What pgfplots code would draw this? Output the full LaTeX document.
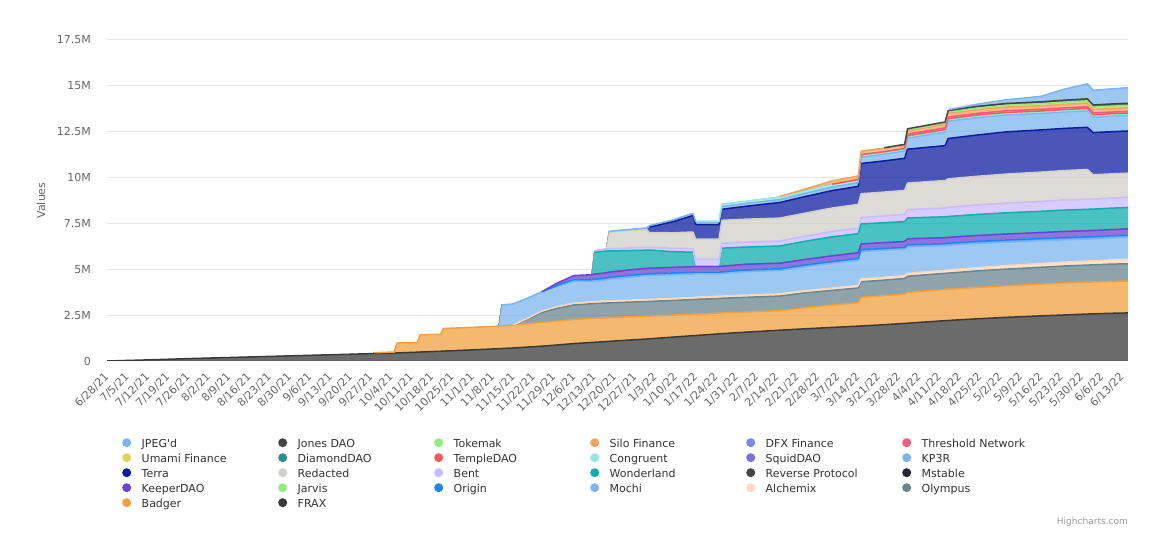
\documentclass[border=0pt]{standalone}
\usepackage{fontspec}
\setmainfont{DejaVu Sans}
\usepackage{pgfplots}
\usepackage{pgfplotstable}
\pgfplotsset{compat=1.18}

\definecolor{cFRAX}{HTML}{3A3A3A}
\definecolor{cBadger}{HTML}{F2A03F}
\definecolor{cOlympus}{HTML}{6A858E}
\definecolor{cAlchemix}{HTML}{FBD9C0}
\definecolor{cMochi}{HTML}{7CB5EC}
\definecolor{cOrigin}{HTML}{1E84F5}
\definecolor{cJarvis}{HTML}{90ED7D}
\definecolor{cKeeper}{HTML}{6A45D5}
\definecolor{cMstable}{HTML}{262637}
\definecolor{cReverse}{HTML}{434348}
\definecolor{cWonder}{HTML}{0DADB0}
\definecolor{cBent}{HTML}{C9BBFE}
\definecolor{cRedacted}{HTML}{D3CFC9}
\definecolor{cTerra}{HTML}{0D1DA0}
\definecolor{cKP3R}{HTML}{7CB5EC}
\definecolor{cSquid}{HTML}{7B72D9}
\definecolor{cCongruent}{HTML}{91E8E1}
\definecolor{cTemple}{HTML}{F45B5B}
\definecolor{cDiamond}{HTML}{2B908F}
\definecolor{cUmami}{HTML}{E4D354}
\definecolor{cThreshold}{HTML}{F15C80}
\definecolor{cDFX}{HTML}{8085E9}
\definecolor{cSilo}{HTML}{F7A35C}
\definecolor{cTokemak}{HTML}{90ED7D}
\definecolor{cJones}{HTML}{434348}
\definecolor{cJPEG}{HTML}{7CB5EC}
\definecolor{cGrid}{HTML}{E6E6E6}
\definecolor{cAxis}{HTML}{CCD6EB}
\definecolor{cTick}{HTML}{666666}
\definecolor{cLegend}{HTML}{333333}
\definecolor{cCredit}{HTML}{999999}

\newcommand{\tickfont}{\fontsize{11bp}{13bp}\selectfont}
\newcommand{\lgd}[1]{\makebox[136.5bp][l]{#1}}

% values in millions, d = days since 6/28/21
\pgfplotstableread{
d   fr   bd   ol   al   mo   or   ja   kd   ms   rp   wo   be   re   te   kp   sq   co   tp   dd   um   th   dfx  si   to   jo   jp
0   0    0    0    0    0    0    0    0    0    0    0    0    0    0    0    0    0    0    0    0    0    0    0    0    0    0
14  0.06 0    0    0    0    0    0    0    0    0    0    0    0    0    0    0    0    0    0    0    0    0    0    0    0    0
28  0.13 0    0    0    0    0    0    0    0    0    0    0    0    0    0    0    0    0    0    0    0    0    0    0    0    0
42  0.19 0    0    0    0    0    0    0    0    0    0    0    0    0    0    0    0    0    0    0    0    0    0    0    0    0
56  0.25 0    0    0    0    0    0    0    0    0    0    0    0    0    0    0    0    0    0    0    0    0    0    0    0    0
70  0.31 0    0    0    0    0    0    0    0    0    0    0    0    0    0    0    0    0    0    0    0    0    0    0    0    0
84  0.37 0    0    0    0    0    0    0    0    0    0    0    0    0    0    0    0    0    0    0    0    0    0    0    0    0
91  0.40 0    0    0    0    0    0    0    0    0    0    0    0    0    0    0    0    0    0    0    0    0    0    0    0    0
92  0.40 0.05 0    0    0    0    0    0    0    0    0    0    0    0    0    0    0    0    0    0    0    0    0    0    0    0
99  0.43 0.06 0    0    0    0    0    0    0    0    0    0    0    0    0    0    0    0    0    0    0    0    0    0    0    0
100 0.44 0.54 0    0    0    0    0    0    0    0    0    0    0    0    0    0    0    0    0    0    0    0    0    0    0    0
107 0.48 0.52 0    0    0    0    0    0    0    0    0    0    0    0    0    0    0    0    0    0    0    0    0    0    0    0
108 0.49 0.94 0    0    0    0    0    0    0    0    0    0    0    0    0    0    0    0    0    0    0    0    0    0    0    0
115 0.53 0.93 0    0    0    0    0    0    0    0    0    0    0    0    0    0    0    0    0    0    0    0    0    0    0    0
116 0.54 1.23 0    0    0    0    0    0    0    0    0    0    0    0    0    0    0    0    0    0    0    0    0    0    0    0
125 0.60 1.23 0    0    0    0    0    0    0    0    0    0    0    0    0    0    0    0    0    0    0    0    0    0    0    0
135 0.67 1.23 0    0    0    0    0    0    0    0    0    0    0    0    0    0    0    0    0    0    0    0    0    0    0    0
136 0.68 1.23 0    0    1.15 0    0    0    0    0    0    0    0    0    0    0    0    0    0    0    0    0    0    0    0    0
140 0.71 1.25 0    0    1.15 0    0    0    0    0    0    0    0    0    0    0    0    0    0    0    0    0    0    0    0    0
145 0.76 1.27 0.25 0.05 1.10 0    0    0    0    0    0    0    0    0    0    0    0    0    0    0    0    0    0    0    0    0
150 0.81 1.29 0.55 0.08 1.05 0    0    0    0    0    0    0    0    0    0    0    0    0    0    0    0    0    0    0    0    0
155 0.87 1.30 0.70 0.09 1.10 0.05 0    0.12 0    0    0    0    0    0    0    0    0    0    0    0    0    0    0    0    0    0
161 0.95 1.31 0.80 0.10 1.20 0.08 0.02 0.20 0    0    0    0    0    0    0    0    0    0    0    0    0    0    0    0    0    0
167 1.01 1.31 0.80 0.10 1.12 0.10 0.02 0.24 0    0    0    0    0    0    0    0    0    0    0    0    0    0    0    0    0    0
168 1.02 1.31 0.80 0.11 1.12 0.10 0.02 0.25 0.02 0.02 1.15 0.10 0    0    0    0    0    0    0    0    0    0    0    0    0    0
172 1.06 1.30 0.80 0.11 1.15 0.10 0.02 0.26 0.02 0.02 1.15 0.12 0    0    0    0    0    0    0    0    0    0    0    0    0    0
173 1.07 1.30 0.80 0.11 1.18 0.10 0.02 0.26 0.02 0.02 1.12 0.12 0.90 0    0.05 0    0    0    0    0    0    0    0    0    0    0
180 1.14 1.27 0.80 0.11 1.25 0.10 0.02 0.27 0.02 0.02 1.02 0.14 0.95 0    0.06 0    0    0    0    0    0    0    0    0    0    0
186 1.20 1.24 0.80 0.11 1.30 0.10 0.02 0.28 0.02 0.02 0.95 0.15 0.98 0    0.08 0    0    0    0    0    0    0    0    0    0    0
187 1.21 1.24 0.80 0.11 1.30 0.10 0.02 0.28 0.02 0.02 0.95 0.15 0.80 0.30 0.08 0    0    0    0    0    0    0    0    0    0    0
195 1.30 1.20 0.80 0.11 1.29 0.10 0.02 0.28 0.02 0.02 0.82 0.18 0.85 0.60 0.10 0    0    0    0    0    0    0    0    0    0    0
202 1.38 1.17 0.80 0.11 1.28 0.10 0.02 0.28 0.02 0.02 0.75 0.20 0.90 0.90 0.12 0    0    0    0    0    0    0    0    0    0    0
203 1.39 1.17 0.80 0.12 1.27 0.10 0.02 0.28 0.02 0.02 0    0.35 1.10 0.80 0.15 0    0.03 0    0    0    0    0    0    0    0    0
211 1.48 1.13 0.80 0.12 1.22 0.10 0.02 0.28 0.02 0.02 0    0.35 1.10 0.80 0.15 0    0.03 0    0    0    0    0    0    0    0    0
212 1.49 1.13 0.80 0.12 1.22 0.10 0.02 0.28 0.02 0.02 0.95 0.27 1.25 0.60 0.15 0.03 0.10 0    0    0    0    0    0    0    0    0
220 1.57 1.10 0.80 0.12 1.28 0.10 0.02 0.28 0.02 0.02 0.90 0.27 1.25 0.70 0.15 0.03 0.10 0    0    0    0    0    0    0    0    0
232 1.68 1.06 0.80 0.12 1.27 0.10 0.02 0.28 0.02 0.02 0.90 0.27 1.25 0.85 0.15 0.03 0.10 0    0    0    0    0    0.05 0    0    0
240 1.75 1.15 0.80 0.12 1.30 0.10 0.02 0.28 0.02 0.02 0.95 0.28 1.25 0.90 0.17 0.03 0.10 0    0    0    0    0    0.10 0    0    0
250 1.83 1.22 0.80 0.13 1.35 0.10 0.02 0.28 0.02 0.02 1.00 0.29 1.28 0.95 0.19 0.03 0.10 0.03 0    0    0    0    0.18 0    0    0
259 1.90 1.28 0.80 0.13 1.38 0.10 0.02 0.29 0.02 0.02 1.00 0.30 1.30 0.98 0.20 0.03 0.10 0.04 0    0    0    0    0.20 0    0    0
260 1.91 1.56 0.85 0.15 1.50 0.10 0.02 0.29 0.02 0.02 1.05 0.35 1.30 1.65 0.35 0.03 0.05 0.05 0.02 0    0    0.02 0.15 0    0    0
268 1.98 1.58 0.85 0.15 1.48 0.10 0.02 0.29 0.02 0.02 1.05 0.37 1.30 1.70 0.37 0.03 0.05 0.05 0.02 0    0    0.02 0.15 0    0.03 0
275 2.05 1.60 0.85 0.15 1.45 0.10 0.02 0.29 0.02 0.02 1.05 0.40 1.30 1.75 0.40 0.03 0.05 0.05 0.02 0    0    0.02 0.15 0    0.04 0
276 2.06 1.68 0.88 0.16 1.45 0.11 0.02 0.30 0.02 0.02 1.10 0.45 1.45 1.85 0.60 0.03 0.05 0.05 0.02 0.02 0.05 0.02 0.17 0.05 0.05 0
289 2.20 1.70 0.88 0.16 1.35 0.11 0.02 0.30 0.02 0.02 1.10 0.48 1.50 1.90 0.75 0.03 0.05 0.05 0.02 0.02 0.05 0.02 0.17 0.08 0.05 0
290 2.21 1.70 0.88 0.17 1.35 0.11 0.02 0.30 0.02 0.02 1.10 0.50 1.55 2.20 0.95 0.03 0.05 0.05 0.02 0.02 0.05 0.02 0.18 0.10 0.05 0.05
300 2.30 1.71 0.90 0.18 1.32 0.11 0.02 0.30 0.02 0.02 1.11 0.52 1.56 2.25 0.95 0.03 0.05 0.06 0.02 0.02 0.05 0.02 0.18 0.10 0.08 0.12
310 2.38 1.72 0.91 0.19 1.28 0.12 0.02 0.30 0.02 0.02 1.12 0.53 1.58 2.30 0.93 0.03 0.04 0.06 0.02 0.02 0.05 0.02 0.18 0.11 0.09 0.20
322 2.46 1.73 0.92 0.20 1.25 0.12 0.02 0.30 0.02 0.02 1.12 0.54 1.60 2.30 0.90 0.03 0.04 0.06 0.02 0.02 0.05 0.02 0.17 0.12 0.10 0.30
330 2.51 1.74 0.93 0.21 1.22 0.12 0.02 0.31 0.02 0.02 1.13 0.55 1.60 2.30 0.90 0.03 0.04 0.06 0.02 0.02 0.05 0.02 0.17 0.12 0.11 0.60
338 2.56 1.74 0.93 0.22 1.20 0.12 0.02 0.31 0.02 0.02 1.13 0.55 1.62 2.30 0.90 0.03 0.04 0.06 0.02 0.02 0.05 0.02 0.17 0.13 0.11 0.82
340 2.57 1.74 0.93 0.22 1.20 0.12 0.02 0.31 0.02 0.02 1.13 0.55 1.32 2.30 0.85 0.03 0.04 0.06 0.02 0.02 0.05 0.02 0.17 0.13 0.12 0.80
346 2.60 1.74 0.94 0.23 1.20 0.12 0.02 0.31 0.02 0.02 1.13 0.55 1.32 2.30 0.85 0.03 0.04 0.06 0.02 0.02 0.05 0.02 0.17 0.13 0.12 0.82
352 2.62 1.74 0.94 0.25 1.20 0.12 0.02 0.31 0.02 0.02 1.13 0.55 1.32 2.30 0.85 0.03 0.04 0.06 0.02 0.02 0.05 0.02 0.17 0.13 0.12 0.85
}\data

% running totals (tops of the stacked bands), used for the series' top lines
\pgfplotstablecreatecol[create col/expr={\thisrow{fr}}]{s1}{\data}
\pgfplotstablecreatecol[create col/expr={\thisrow{s1}+\thisrow{bd}}]{s2}{\data}
\pgfplotstablecreatecol[create col/expr={\thisrow{s2}+\thisrow{ol}}]{s3}{\data}
\pgfplotstablecreatecol[create col/expr={\thisrow{s3}+\thisrow{al}}]{s4}{\data}
\pgfplotstablecreatecol[create col/expr={\thisrow{s4}+\thisrow{mo}}]{s5}{\data}
\pgfplotstablecreatecol[create col/expr={\thisrow{s5}+\thisrow{or}}]{s6}{\data}
\pgfplotstablecreatecol[create col/expr={\thisrow{s6}+\thisrow{ja}}]{s7}{\data}
\pgfplotstablecreatecol[create col/expr={\thisrow{s7}+\thisrow{kd}}]{s8}{\data}
\pgfplotstablecreatecol[create col/expr={\thisrow{s8}+\thisrow{ms}}]{s9}{\data}
\pgfplotstablecreatecol[create col/expr={\thisrow{s9}+\thisrow{rp}}]{s10}{\data}
\pgfplotstablecreatecol[create col/expr={\thisrow{s10}+\thisrow{wo}}]{s11}{\data}
\pgfplotstablecreatecol[create col/expr={\thisrow{s11}+\thisrow{be}}]{s12}{\data}
\pgfplotstablecreatecol[create col/expr={\thisrow{s12}+\thisrow{re}}]{s13}{\data}
\pgfplotstablecreatecol[create col/expr={\thisrow{s13}+\thisrow{te}}]{s14}{\data}
\pgfplotstablecreatecol[create col/expr={\thisrow{s14}+\thisrow{kp}}]{s15}{\data}
\pgfplotstablecreatecol[create col/expr={\thisrow{s15}+\thisrow{sq}}]{s16}{\data}
\pgfplotstablecreatecol[create col/expr={\thisrow{s16}+\thisrow{co}}]{s17}{\data}
\pgfplotstablecreatecol[create col/expr={\thisrow{s17}+\thisrow{tp}}]{s18}{\data}
\pgfplotstablecreatecol[create col/expr={\thisrow{s18}+\thisrow{dd}}]{s19}{\data}
\pgfplotstablecreatecol[create col/expr={\thisrow{s19}+\thisrow{um}}]{s20}{\data}
\pgfplotstablecreatecol[create col/expr={\thisrow{s20}+\thisrow{th}}]{s21}{\data}
\pgfplotstablecreatecol[create col/expr={\thisrow{s21}+\thisrow{dfx}}]{s22}{\data}
\pgfplotstablecreatecol[create col/expr={\thisrow{s22}+\thisrow{si}}]{s23}{\data}
\pgfplotstablecreatecol[create col/expr={\thisrow{s23}+\thisrow{to}}]{s24}{\data}
\pgfplotstablecreatecol[create col/expr={\thisrow{s24}+\thisrow{jo}}]{s25}{\data}
\pgfplotstablecreatecol[create col/expr={\thisrow{s25}+\thisrow{jp}}]{s26}{\data}

\pgfplotsset{
  commonaxis/.style={
    at={(107bp,191bp)}, anchor=south west,
    scale only axis, width=1021bp, height=321bp,
    xmin=0, xmax=352, ymin=0, ymax=17.5,
  },
  band/.style={draw=none, fill=#1, fill opacity=0.75},
  topline/.style={draw=#1, line width=1.5bp, line join=round, no marks},
}

\begin{document}
\begin{tikzpicture}
\path[use as bounding box] (0,0) rectangle (1170bp,552bp);
\begin{axis}[
  commonaxis,
  stack plots=y,
  axis x line*=bottom, axis y line*=left,
  x axis line style={draw=cAxis, line width=1bp, -},
  y axis line style={draw=none},
  major tick length=0pt,
  xtick={0,7,...,350},
  xticklabels={6/28/21,7/5/21,7/12/21,7/19/21,7/26/21,8/2/21,8/9/21,8/16/21,8/23/21,8/30/21,9/6/21,9/13/21,9/20/21,9/27/21,10/4/21,10/11/21,10/18/21,10/25/21,11/1/21,11/8/21,11/15/21,11/22/21,11/29/21,12/6/21,12/13/21,12/20/21,12/27/21,1/3/22,1/10/22,1/17/22,1/24/22,1/31/22,2/7/22,2/14/22,2/21/22,2/28/22,3/7/22,3/14/22,3/21/22,3/28/22,4/4/22,4/11/22,4/18/22,4/25/22,5/2/22,5/9/22,5/16/22,5/23/22,5/30/22,6/6/22,6/13/22},
  ytick={0,2.5,5,7.5,10,12.5,15,17.5},
  yticklabels={0,2.5M,5M,7.5M,10M,12.5M,15M,17.5M},
  ymajorgrids, grid style={draw=cGrid, line width=1bp},
  xticklabel style={font=\tickfont, text=cTick, inner sep=0pt, anchor=east, yshift=-14bp, rotate=45},
  yticklabel style={font=\tickfont, text=cTick, inner sep=0pt, anchor=east, xshift=-16bp},
  ylabel={Values},
  every axis y label/.style={at={(axis description cs:-0.0646,0.5)}, rotate=90, anchor=center, font=\tickfont, text=cTick},
  legend columns=6, reverse legend, legend cell align=left,
  legend style={at={(axis description cs:0.0149,-0.2405)}, anchor=north west,
    draw=none, fill=none, inner sep=0pt, outer sep=0pt,
    row sep=6bp, column sep=0pt,
    font=\tickfont, text=cLegend,
    nodes={inner sep=0pt, text height=9bp, text depth=0bp}},
  legend image code/.code={%
    \path[draw=none, fill=none] (0bp,-4.5bp) rectangle (19.5bp,4.5bp);
    \fill[#1, fill opacity=1, draw=none] (4.5bp,0bp) circle[radius=4.5bp];},
]
\addplot[band=cFRAX] table[x=d,y=fr]{\data} \closedcycle; \addlegendentry{\lgd{FRAX}}
\addplot[band=cBadger] table[x=d,y=bd]{\data} \closedcycle; \addlegendentry{\lgd{Badger}}
\addplot[band=cOlympus] table[x=d,y=ol]{\data} \closedcycle; \addlegendentry{\lgd{Olympus}}
\addplot[band=cAlchemix] table[x=d,y=al]{\data} \closedcycle; \addlegendentry{\lgd{Alchemix}}
\addplot[band=cMochi] table[x=d,y=mo]{\data} \closedcycle; \addlegendentry{\lgd{Mochi}}
\addplot[band=cOrigin] table[x=d,y=or]{\data} \closedcycle; \addlegendentry{\lgd{Origin}}
\addplot[band=cJarvis] table[x=d,y=ja]{\data} \closedcycle; \addlegendentry{\lgd{Jarvis}}
\addplot[band=cKeeper] table[x=d,y=kd]{\data} \closedcycle; \addlegendentry{\lgd{KeeperDAO}}
\addplot[band=cMstable] table[x=d,y=ms]{\data} \closedcycle; \addlegendentry{\lgd{Mstable}}
\addplot[band=cReverse] table[x=d,y=rp]{\data} \closedcycle; \addlegendentry{\lgd{Reverse Protocol}}
\addplot[band=cWonder] table[x=d,y=wo]{\data} \closedcycle; \addlegendentry{\lgd{Wonderland}}
\addplot[band=cBent] table[x=d,y=be]{\data} \closedcycle; \addlegendentry{\lgd{Bent}}
\addplot[band=cRedacted] table[x=d,y=re]{\data} \closedcycle; \addlegendentry{\lgd{Redacted}}
\addplot[band=cTerra] table[x=d,y=te]{\data} \closedcycle; \addlegendentry{\lgd{Terra}}
\addplot[band=cKP3R] table[x=d,y=kp]{\data} \closedcycle; \addlegendentry{\lgd{KP3R}}
\addplot[band=cSquid] table[x=d,y=sq]{\data} \closedcycle; \addlegendentry{\lgd{SquidDAO}}
\addplot[band=cCongruent] table[x=d,y=co]{\data} \closedcycle; \addlegendentry{\lgd{Congruent}}
\addplot[band=cTemple] table[x=d,y=tp]{\data} \closedcycle; \addlegendentry{\lgd{TempleDAO}}
\addplot[band=cDiamond] table[x=d,y=dd]{\data} \closedcycle; \addlegendentry{\lgd{DiamondDAO}}
\addplot[band=cUmami] table[x=d,y=um]{\data} \closedcycle; \addlegendentry{\lgd{Umami Finance}}
\addplot[band=cThreshold] table[x=d,y=th]{\data} \closedcycle; \addlegendentry{\lgd{Threshold Network}}
\addplot[band=cDFX] table[x=d,y=dfx]{\data} \closedcycle; \addlegendentry{\lgd{DFX Finance}}
\addplot[band=cSilo] table[x=d,y=si]{\data} \closedcycle; \addlegendentry{\lgd{Silo Finance}}
\addplot[band=cTokemak] table[x=d,y=to]{\data} \closedcycle; \addlegendentry{\lgd{Tokemak}}
\addplot[band=cJones] table[x=d,y=jo]{\data} \closedcycle; \addlegendentry{\lgd{Jones DAO}}
\addplot[band=cJPEG] table[x=d,y=jp]{\data} \closedcycle; \addlegendentry{\lgd{JPEG\textquotesingle d}}
\end{axis}

\begin{axis}[commonaxis, hide axis]
\addplot[topline=cFRAX] table[x=d,y=s1]{\data};
\addplot[topline=cBadger, restrict x to domain=92:352] table[x=d,y=s2]{\data};
\addplot[topline=cOlympus, restrict x to domain=140:352] table[x=d,y=s3]{\data};
\addplot[topline=cAlchemix, restrict x to domain=140:352] table[x=d,y=s4]{\data};
\addplot[topline=cMochi, restrict x to domain=136:352] table[x=d,y=s5]{\data};
\addplot[topline=cOrigin, restrict x to domain=150:352] table[x=d,y=s6]{\data};
\addplot[topline=cKeeper, restrict x to domain=150:352] table[x=d,y=s8]{\data};
\addplot[topline=cWonder, restrict x to domain=168:202] table[x=d,y=s11]{\data};
\addplot[topline=cWonder, restrict x to domain=212:352] table[x=d,y=s11]{\data};
\addplot[topline=cBent, restrict x to domain=168:352] table[x=d,y=s12]{\data};
\addplot[topline=cRedacted, restrict x to domain=173:352] table[x=d,y=s13]{\data};
\addplot[topline=cTerra, restrict x to domain=187:352] table[x=d,y=s14]{\data};
\addplot[topline=cKP3R, restrict x to domain=173:352] table[x=d,y=s15]{\data};
\addplot[topline=cCongruent, restrict x to domain=203:352] table[x=d,y=s17]{\data};
\addplot[topline=cTemple, restrict x to domain=250:352] table[x=d,y=s18]{\data};
\addplot[topline=cThreshold, restrict x to domain=276:352] table[x=d,y=s21]{\data};
\addplot[topline=cSilo, restrict x to domain=232:352] table[x=d,y=s23]{\data};
\addplot[topline=cTokemak, restrict x to domain=276:352] table[x=d,y=s24]{\data};
\addplot[topline=cJones, restrict x to domain=268:352] table[x=d,y=s25]{\data};
\addplot[topline=cJPEG, restrict x to domain=290:352] table[x=d,y=s26]{\data};
\end{axis}

\node[anchor=base east, font=\fontsize{9bp}{10bp}\selectfont, text=cCredit, inner sep=0pt] at (1128bp,28bp) {Highcharts.com};
\end{tikzpicture}
\end{document}
